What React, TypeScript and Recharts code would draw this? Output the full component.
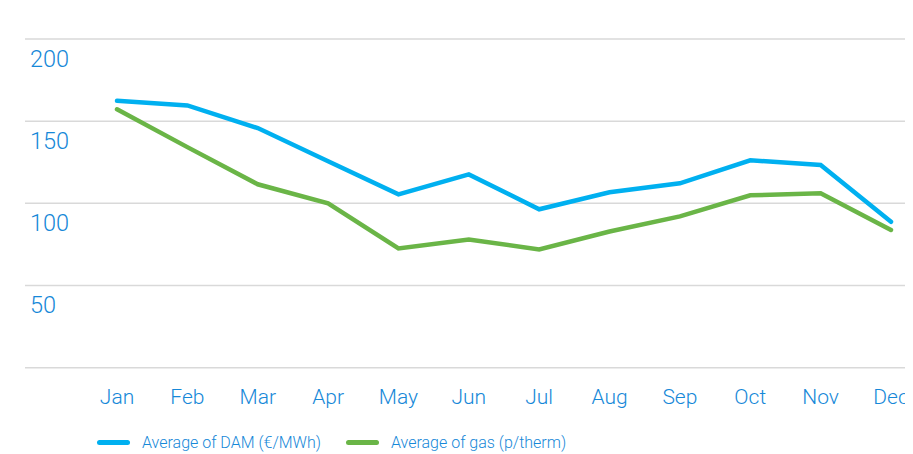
import { CartesianGrid, Line, LineChart, XAxis, YAxis } from "recharts";

const months = ["Jan", "Feb", "Mar", "Apr", "May", "Jun", "Jul", "Aug", "Sep", "Oct", "Nov", "Dec"];
const damValues = [162.4, 159.6, 145.8, 125.6, 105.5, 117.6, 96.4, 106.7, 112.2, 126.2, 123.3, 88.8];
const gasValues = [157.2, 134.2, 111.6, 100.0, 72.6, 78.0, 72.0, 82.9, 92.1, 104.9, 106.1, 83.8];
const yTicks = [0, 50, 100, 150, 200];

const BLUE = "#00b0f0";
const GREEN = "#6ab547";
const TEXT = "#1688d8";
const FONT = "Roboto, 'Liberation Sans', sans-serif";

const chartData = months.map((m, i) => ({
  month: m,
  dam: damValues[i],
  gas: gasValues[i],
}));

// labels sit just under their gridline, left aligned
const YTick = ({ y, payload }: any) => {
  if (payload.value === 0) return null;
  return (
    <text x={22} y={y + 27.5} fill={TEXT} fontSize={23.5} fontWeight={300} fontFamily={FONT} textAnchor="start">
      {payload.value}
    </text>
  );
};

const XTick = ({ x, y, payload }: any) => (
  <text x={x} y={y + 28} fill={TEXT} fontSize={21} fontWeight={300} fontFamily={FONT} textAnchor="middle">
    {payload.value}
  </text>
);

export default function App() {
  const legend = [
    { name: "Average of DAM (€/MWh)", color: BLUE },
    { name: "Average of gas (p/therm)", color: GREEN },
  ];
  return (
    <div style={{ width: 905, fontFamily: FONT }}>
      <LineChart width={905} height={410} data={chartData} margin={{ top: 31, right: 0, bottom: 0, left: 0 }}>
        <CartesianGrid vertical={false} stroke="#d9d9d9" strokeWidth={1.5} />
        <XAxis
          dataKey="month"
          axisLine={false}
          tickLine={false}
          height={50.3}
          padding={{ left: 92, right: 22 }}
          tick={<XTick />}
          interval={0}
        />
        <YAxis
          domain={[0, 200]}
          ticks={yTicks}
          width={17}
          axisLine={false}
          tickLine={false}
          tick={<YTick />}
        />
        <Line type="linear" dataKey="dam" stroke={BLUE} strokeWidth={4.5} dot={false} strokeLinecap="round" isAnimationActive={false} />
        <Line type="linear" dataKey="gas" stroke={GREEN} strokeWidth={4.5} dot={false} strokeLinecap="round" isAnimationActive={false} />
      </LineChart>
      <div style={{ height: 48, display: "flex", alignItems: "center", paddingLeft: 89 }}>
        {legend.map((item) => (
          <div key={item.name} style={{ display: "flex", alignItems: "center", marginRight: 25 }}>
            <span style={{ display: "inline-block", width: 33, height: 5, borderRadius: 3, backgroundColor: item.color }} />
            <span style={{ marginLeft: 12, fontSize: 16, fontWeight: 300, color: TEXT }}>{item.name}</span>
          </div>
        ))}
      </div>
    </div>
  );
}
